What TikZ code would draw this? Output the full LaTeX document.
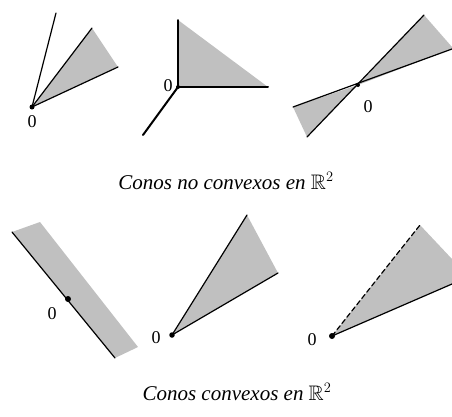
\documentclass[tikz,border=0pt]{standalone}
\usepackage{amssymb}
\usepackage{fontspec}
\setmainfont{Liberation Serif}
\begin{document}
\begin{tikzpicture}[x=1pt,y=-1pt,
  edge/.style={line width=1.2pt,line cap=round},
  thick edge/.style={line width=2pt,line cap=round},
  conefill/.style={fill=shade,draw=none},
  dotmark/.style={circle,fill=black,inner sep=0pt,minimum size=5pt},
  zero/.style={font=\fontsize{18}{20}\selectfont,inner sep=0pt},
  caption/.style={font=\fontsize{21}{24}\selectfont\itshape,inner sep=0pt,anchor=base}]
\definecolor{shade}{RGB}{192,192,192}
\useasboundingbox (0,0) rectangle (452,416);
% Panel 1
\coordinate (o1) at (32,107);
\coordinate (a1) at (56,13);
\coordinate (b1) at (92,28);
\coordinate (c1) at (118,67);
\fill[conefill] (o1) -- (b1) -- (c1) -- cycle;
\draw[edge] (o1) -- (a1);
\draw[edge] (o1) -- (b1);
\draw[edge] (o1) -- (c1);
\node[dotmark] at (o1) {};
\node[zero] (z1) at (32,122) {0};
% Panel 2
\coordinate (o2) at (178,87);
\coordinate (a2) at (178,20);
\coordinate (b2) at (268,87);
\coordinate (c2) at (143,135);
\fill[conefill] (o2) -- (a2) -- (b2) -- cycle;
\draw[thick edge] (o2) -- (a2);
\draw[thick edge] (o2) -- (b2);
\draw[thick edge] (o2) -- (c2);
\node[dotmark,minimum size=4pt] at (o2) {};
\node[zero] (z2) at (168,86) {0};
% Panel 3
\coordinate (o3) at (358,85);
\coordinate (a3) at (307,137);
\coordinate (b3) at (424,15);
\coordinate (c3) at (293,107);
\coordinate (d3) at (452,49);
\fill[conefill] (o3) -- (b3) -- (452,47) -- (d3) -- cycle;
\fill[conefill] (o3) -- (a3) -- (c3) -- cycle;
\draw[edge] (a3) -- (b3);
\draw[edge] (c3) -- (d3);
\node[dotmark,minimum size=4pt] at (o3) {};
\node[zero] (z3) at (368,107) {0};
% Caption 1
\node[caption] (cap1) at (226,189) {Conos no convexos en $\mathbb{R}^2$};
% Panel 4
\coordinate (a4) at (12,232);
\coordinate (b4) at (40,222);
\coordinate (c4) at (138,347);
\coordinate (d4) at (115,358);
\fill[conefill] (a4) -- (b4) -- (c4) -- (d4) -- cycle;
\draw[edge] (a4) -- (d4);
\node[dotmark,minimum size=6pt] (o4) at (68,299) {};
\node[zero] (z4) at (52,314) {0};
% Panel 5
\coordinate (o5) at (172,335);
\coordinate (a5) at (247,215);
\coordinate (b5) at (278,273);
\fill[conefill] (o5) -- (a5) -- (b5) -- cycle;
\draw[edge] (o5) -- (a5);
\draw[edge] (o5) -- (b5);
\node[dotmark,minimum size=5.5pt] at (o5) {};
\node[zero] (z5) at (156,338) {0};
% Panel 6
\coordinate (o6) at (332,336);
\coordinate (a6) at (420,225);
\coordinate (b6) at (452,284);
\fill[conefill] (o6) -- (a6) -- (452,259) -- (b6) -- cycle;
\draw[edge,dashed,dash pattern=on 5pt off 3pt] (o6) -- (a6);
\draw[edge] (o6) -- (b6);
\node[dotmark,minimum size=6pt] at (o6) {};
\node[zero] (z6) at (312,340) {0};
% Caption 2
\node[caption] (cap2) at (237,400) {Conos convexos en $\mathbb{R}^2$};
\end{tikzpicture}
\end{document}
